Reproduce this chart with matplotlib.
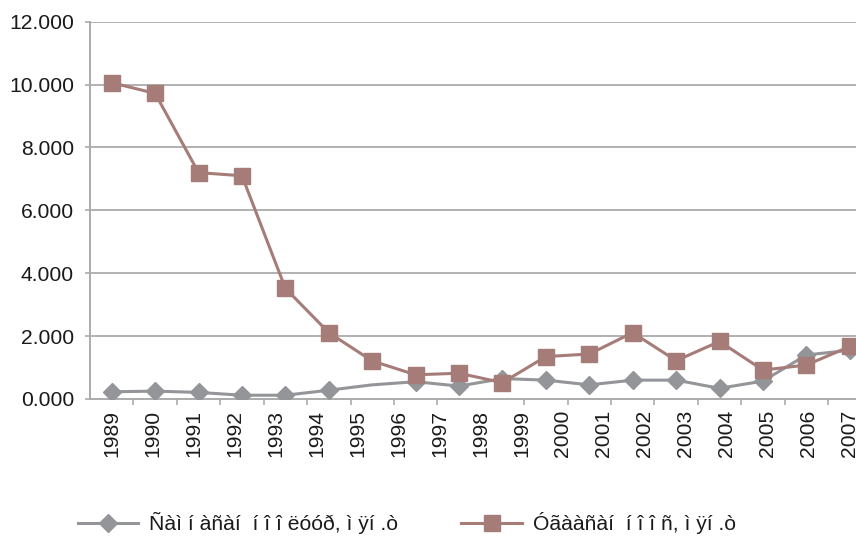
import matplotlib
matplotlib.use("Agg")
import matplotlib.pyplot as plt
import numpy as np
from matplotlib.ticker import FixedLocator, FuncFormatter

plt.rcParams['font.family'] = ['Liberation Sans', 'DejaVu Sans']

years = ['1989', '1990', '1991', '1992', '1993', '1994', '1995', '1996', '1997',
         '1998', '1999', '2000', '2001', '2002', '2003', '2004', '2005', '2006', '2007']
combed = [0.23, 0.25, 0.21, 0.12, 0.12, 0.28, 0.45, 0.55, 0.41,
          0.65, 0.60, 0.45, 0.60, 0.60, 0.34, 0.57, 1.40, 1.55]
washed = [10.06, 9.72, 7.20, 7.10, 3.52, 2.11, 1.21, 0.77, 0.82,
          0.52, 1.35, 1.43, 2.11, 1.22, 1.83, 0.92, 1.08, 1.67]
label_combed = "Ñàì í àñàí  í î î ëóóð, ì ÿí .ò"
label_washed = "Óãààñàí  í î î ñ, ì ÿí .ò"
yticks = [0, 2, 4, 6, 8, 10, 12]

gray = '#939598'
rose = '#a67c78'
grid = '#ababab'
txt = '#1a1a1a'
fs = 15.2

W, H = 856, 540
fig = plt.figure(figsize=(W / 100, H / 100), dpi=100)
ax = fig.add_axes([90 / W, 1 - 399 / H, 1 - 90 / W, (399 - 21.7) / H])

x = np.arange(len(combed))
marks = [i for i in range(len(combed)) if i != 6]
ax.plot(x, combed, color=gray, lw=2.2, marker='D', ms=9.5, markevery=marks,
        label=label_combed, zorder=3)
ax.plot(x, washed, color=rose, lw=2.2, marker='s', ms=11.5,
        label=label_washed, zorder=4)

ax.set_xlim(-0.5, (W - 112) / 43.4)
ax.set_ylim(0, 12)

ax.set_yticks(yticks)
ax.yaxis.set_major_formatter(FuncFormatter(lambda v, p: f"{v:.3f}"))
ax.tick_params(axis='y', length=3.6, width=1.2, color=grid, labelsize=fs,
               pad=8, labelcolor=txt)
for v in yticks[1:]:
    ax.axhline(v, color=grid, lw=1.3, zorder=1)

n = len(years)
label_pos = [i * 17 / 18 for i in range(n)]
ax.xaxis.set_major_locator(FixedLocator(label_pos))
ax.set_xticklabels(years, rotation=90)
ax.xaxis.set_minor_locator(FixedLocator([i + 0.5 for i in range(len(combed))]))
ax.tick_params(axis='x', which='major', length=0, pad=8, labelsize=fs,
               labelcolor=txt)
ax.tick_params(axis='x', which='minor', length=4, width=1.2, color=grid)

for s in ['top', 'right']:
    ax.spines[s].set_visible(False)
for s in ['left', 'bottom']:
    ax.spines[s].set_color(grid)
    ax.spines[s].set_linewidth(1.4)

leg = fig.legend(loc='center left', bbox_to_anchor=(78 / W, 1 - 523 / H), ncol=2,
                 frameon=False, fontsize=fs, handlelength=2.85, handletextpad=0.52,
                 columnspacing=3.0, borderpad=0, borderaxespad=0)
for t in leg.get_texts():
    t.set_color(txt)

fig.savefig('out.png', dpi=100)
